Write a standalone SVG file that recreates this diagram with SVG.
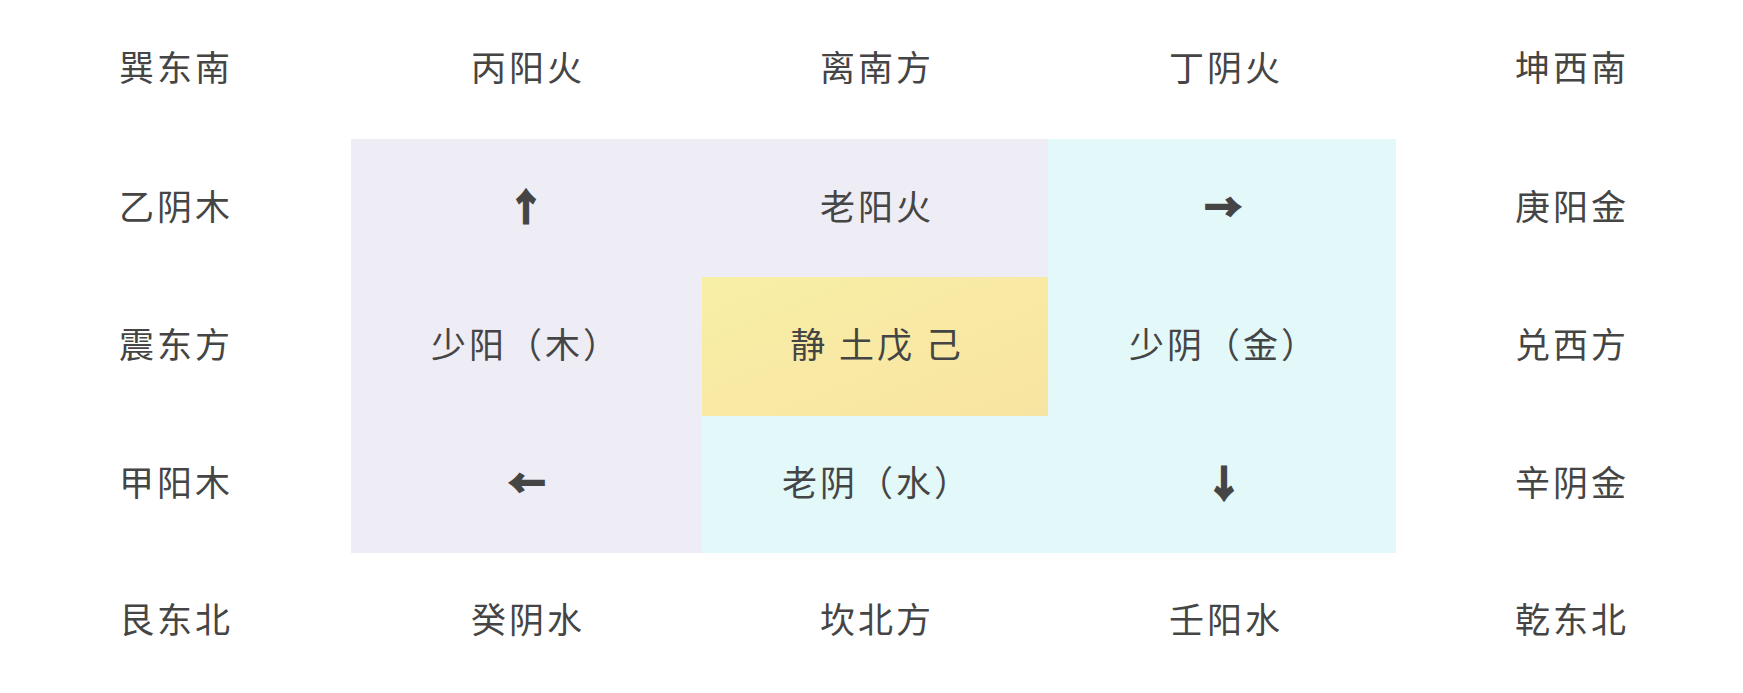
<svg xmlns="http://www.w3.org/2000/svg" width="1743" height="693" viewBox="0 0 1743 693">
<defs>
<linearGradient id="yel" x1="0" y1="0" x2="1" y2="1">
<stop offset="0" stop-color="#F8EFA6"/>
<stop offset="1" stop-color="#F8E4A2"/>
</linearGradient>
<style>
text{font-family:"Noto Sans CJK SC","Noto Sans CJK TC",sans-serif;font-size:35px;fill:#454545;text-anchor:middle;dominant-baseline:central;letter-spacing:3px}
.ar{font-size:36px;font-weight:bold;letter-spacing:0;stroke:#454545;stroke-width:2.5px}
.lav{fill:#EEECF4}
.cy{fill:#E3F8F9}
</style>
</defs>
<rect width="1743" height="693" fill="#FFFFFF"/>
<g id="regions">
<path class="lav" d="M351 139H1048V277H702V553H351Z"/>
<path class="cy" d="M1048 139H1396V553H702V416H1048Z"/>
<rect x="702" y="277" width="346" height="139" fill="url(#yel)"/>
</g>
<g id="connectors"/>
<g id="n-xun"><text x="176" y="65">巽东南</text></g>
<g id="n-bing"><text x="528" y="65">丙阳火</text></g>
<g id="n-li"><text x="877" y="65">离南方</text></g>
<g id="n-ding"><text x="1226" y="65">丁阴火</text></g>
<g id="n-kun"><text x="1572" y="65">坤西南</text></g>
<g id="n-yi"><text x="176" y="204">乙阴木</text></g>
<g id="n-up"><text class="ar" x="526" y="205">↑</text></g>
<g id="n-laoyang"><text x="877" y="204">老阳火</text></g>
<g id="n-right"><text class="ar" x="1223" y="205">→</text></g>
<g id="n-geng"><text x="1572" y="204">庚阳金</text></g>
<g id="n-zhen"><text x="176" y="342">震东方</text></g>
<g id="n-shaoyang"><text x="526" y="342">少阳（木）</text></g>
<g id="n-jing"><text x="877" y="342" xml:space="preserve">静 土戊 己</text></g>
<g id="n-shaoyin"><text x="1224" y="342">少阴（金）</text></g>
<g id="n-dui"><text x="1572" y="342">兑西方</text></g>
<g id="n-jia"><text x="176" y="480">甲阳木</text></g>
<g id="n-left"><text class="ar" x="527" y="481">←</text></g>
<g id="n-laoyin"><text x="877" y="480">老阴（水）</text></g>
<g id="n-down"><text class="ar" x="1224" y="481">↓</text></g>
<g id="n-xin"><text x="1572" y="480">辛阴金</text></g>
<g id="n-gen"><text x="176" y="617">艮东北</text></g>
<g id="n-gui"><text x="528" y="617">癸阴水</text></g>
<g id="n-kan"><text x="877" y="617">坎北方</text></g>
<g id="n-ren"><text x="1226" y="617">壬阳水</text></g>
<g id="n-qian"><text x="1572" y="617">乾东北</text></g>
</svg>
